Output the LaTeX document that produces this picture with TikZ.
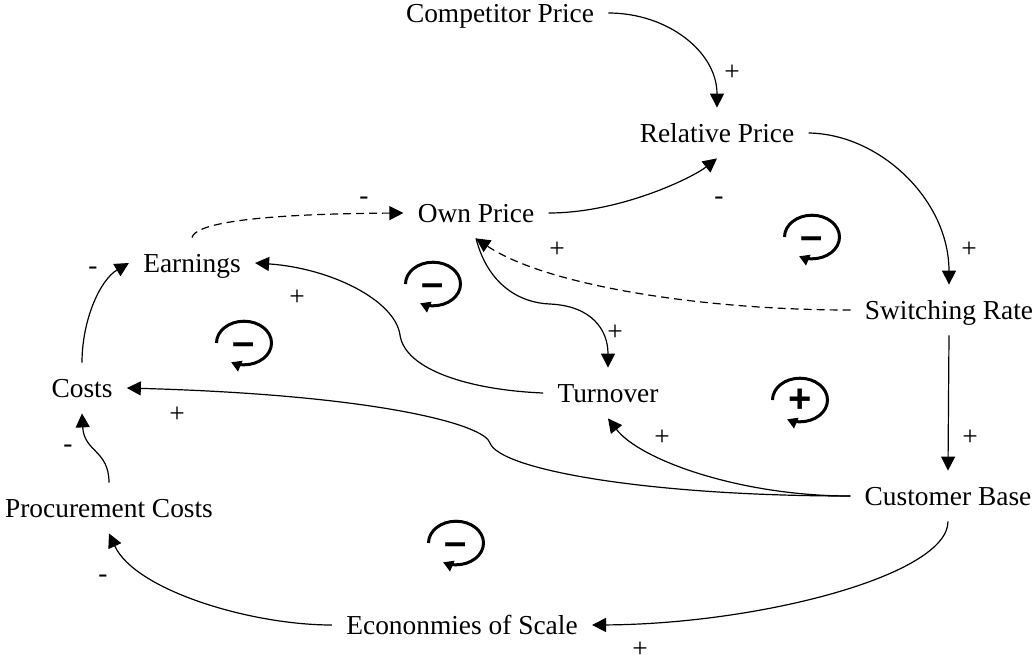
\documentclass[tikz,border=0pt]{standalone}
\usepackage{fontspec}
\setmainfont{Liberation Serif}
\newfontfamily\signfont{Liberation Sans}
\usetikzlibrary{arrows.meta}

\tikzset{
  var/.style={font=\fontsize{13.7}{16}\selectfont, inner xsep=7pt, inner ysep=8pt,
    text height=9pt, text depth=0pt},
  pol/.style={font=\fontsize{13.7}{16}\selectfont, inner sep=0pt,
    text height=7pt, text depth=0pt},
  link/.style={line width=0.6pt, -{Triangle[length=7pt,width=7pt]}},
  infolink/.style={link, dash pattern=on 4pt off 2.5pt},
  loopline/.style={line width=1.5pt, -{Triangle[length=5pt,width=5.5pt]}},
  loopsign/.style={font=\signfont\bfseries\fontsize{20}{20}\selectfont, inner sep=0pt,
    text height=12pt, text depth=0pt}
}

% feedback loop marker: name, x, y, sign
\newcommand{\fbloop}[4]{%
  \draw[loopline] (#2,#3) ++(-13.75pt,0pt)
    arc[start angle=180, end angle=-118, x radius=13.75pt, y radius=10.9pt];
  \node[loopsign] (#1) at (#2,#3) {#4};
}

\begin{document}
\begin{tikzpicture}[x=0.5pt, y=-0.5pt]
    \useasboundingbox (0,0) rectangle (1035,660);

    % variables
    \node[var] (cp) at (500,13) {Competitor Price};
    \node[var] (rp) at (717,133) {Relative Price};
    \node[var] (op) at (476,213) {Own Price};
    \node[var] (ea) at (192,263) {Earnings};
    \node[var] (sr) at (949,310) {Switching Rate};
    \node[var] (co) at (82,388) {Costs};
    \node[var] (to) at (608,393) {Turnover};
    \node[var] (cb) at (948,496) {Customer Base};
    \node[var] (pc) at (109,508) {Procurement Costs};
    \node[var] (es) at (462,625) {Econonmies of Scale};

    % causal links
    \draw[link] (cp.east) .. controls (668,13) and (717,52) .. (rp.north);
    \draw[link] (rp.east) .. controls (880,134) and (949,200) .. (sr.north);
    \draw[link] (op.east) .. controls (620,213) and (692,178) .. (rp.south);
    \draw[infolink] (ea.north) .. controls (195,224) and (250,214) .. (op.west);
    \draw[infolink] (sr.west) .. controls (700,310) and (545,285) .. (op.south);
    \draw[link] (op.south) .. controls (488,285) and (520,303) .. (550,304)
        .. controls (592,306) and (608,330) .. (to.north);
    \draw[link] (to.west) .. controls (470,390) and (405,370) .. (400,335)
        .. controls (395,300) and (330,268) .. (ea.east);
    \draw[link] (co.north) .. controls (82,320) and (100,280) .. (ea.west);
    \draw[link] (pc.north) .. controls (109,450) and (84,452) .. (co.south);
    \draw[link] (cb.west) .. controls (650,496) and (500,470) .. (490,443)
        .. controls (485,425) and (380,395) .. (co.east);
    \draw[link] (cb.west) .. controls (740,496) and (640,460) .. (to.south);
    \draw[link] (sr.south) -- (cb.north);
    \draw[link] (cb.south) .. controls (948,575) and (760,624) .. (es.east);
    \draw[link] (es.west) .. controls (250,625) and (135,590) .. (pc.south);

    % link polarities
    \node[pol] (s1) at (732,73) {+};
    \node[pol] (s2) at (969,250) {+};
    \node[pol] (s3) at (719,197) {-};
    \node[pol] (s4) at (364,197) {-};
    \node[pol] (s5) at (557,250) {+};
    \node[pol] (s6) at (615,333) {+};
    \node[pol] (s7) at (297,298) {+};
    \node[pol] (s8) at (93,267) {-};
    \node[pol] (s9) at (68,445) {-};
    \node[pol] (s10) at (177,415) {+};
    \node[pol] (s11) at (662,438) {+};
    \node[pol] (s12) at (970,438) {+};
    \node[pol] (s13) at (640,650) {+};
    \node[pol] (s14) at (103,575) {-};

    % loops
    \fbloop{r1}{812}{237}{–}
    \fbloop{r2}{433}{284}{–}
    \fbloop{r3}{244}{343}{–}
    \fbloop{r4}{800}{400}{+}
    \fbloop{r5}{456}{543}{–}
\end{tikzpicture}
\end{document}
